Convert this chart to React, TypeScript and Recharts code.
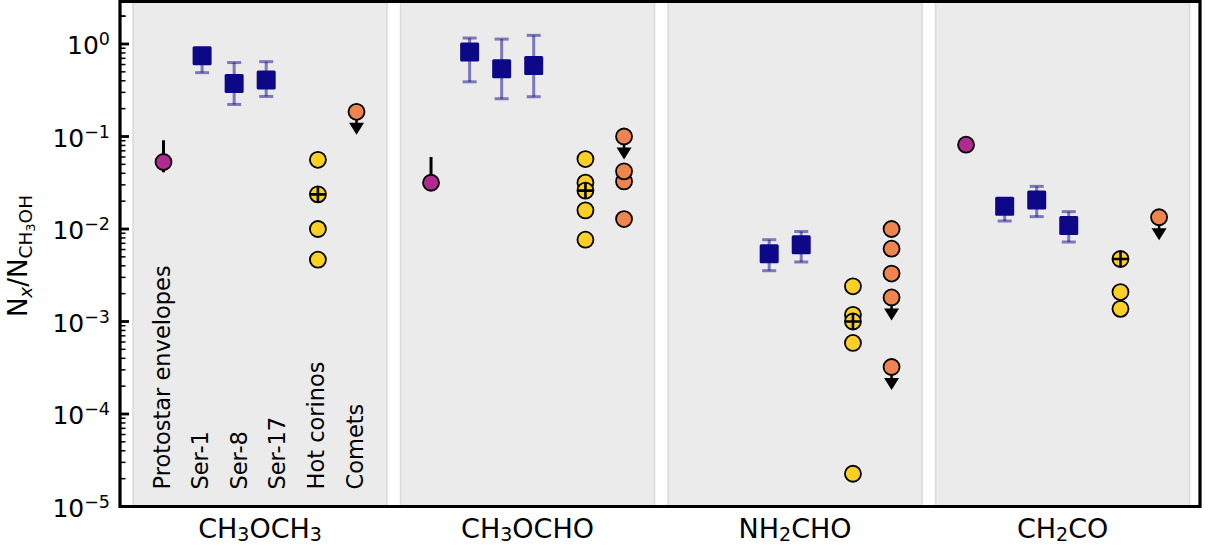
import React from 'react';
import { ScatterChart, Scatter, XAxis, YAxis, ReferenceArea, ErrorBar } from 'recharts';

const FONT = '"DejaVu Sans", sans-serif';

// molecule groups along the x axis
const GROUP_LABELS: [string, boolean][][] = [
  [['CH', false], ['3', true], ['OCH', false], ['3', true]],
  [['CH', false], ['3', true], ['OCHO', false]],
  [['NH', false], ['2', true], ['CHO', false]],
  [['CH', false], ['2', true], ['CO', false]],
];
const SOURCE_LABELS = ['Protostar envelopes', 'Ser-1', 'Ser-8', 'Ser-17', 'Hot corinos', 'Comets'];
const LABEL_SLOTS = [0, 1, 2, 3, 4, 5];
const SER_SLOTS = [1, 1.83, 2.66];
const PROTO_SLOT = 0;
const HC_SLOT = 4;
const COMET_SLOT = 5;
const GROUP_STEP = 6.93;
const GROUP_CENTER = 2.5;
const PANEL_HALF = 3.29;
const X_MIN = -1.127;
const X_MAX = 26.85;
const Y_MIN = 1e-5;
const Y_MAX = 2.88;

// protostar envelopes (group index, value, low, high)
const PROTO_GROUPS = [0, 1, 3];
const PROTO_VALUES = [0.053, 0.0316, 0.0815];
const PROTO_LOW = [0.041, 0.0316, 0.0815];
const PROTO_HIGH = [0.091, 0.06, 0.0815];

// Serpens sources Ser-1, Ser-8, Ser-17 per group
const SER_VALUES = [
  [0.748, 0.375, 0.408],
  [0.82, 0.54, 0.587],
  [null, 0.0054, 0.00677],
  [0.0176, 0.0206, 0.0109],
];
const SER_LOW = [
  [0.49, 0.222, 0.271],
  [0.39, 0.256, 0.269],
  [null, 0.00354, 0.0044],
  [0.0122, 0.0136, 0.00723],
];
const SER_HIGH = [
  [0.85, 0.63, 0.644],
  [1.16, 1.13, 1.24],
  [null, 0.00766, 0.0094],
  [0.02, 0.0289, 0.0154],
];

// hot corinos
const HOT_CORINOS = [
  [0.056, 0.01, 0.00466],
  [0.057, 0.0317, 0.0159, 0.00766],
  [0.0024, 0.00118, 0.000586, 2.26e-5],
  [0.00208, 0.00137],
];
const HOT_CORINOS_MARKED = [0.0237, 0.026, 0.001, 0.00474];

// comets
const COMETS = [
  [0.185],
  [0.1, 0.0327, 0.042, 0.0128],
  [0.01, 0.00612, 0.0033, 0.00182, 0.000322],
  [0.0134],
];
const COMET_UPPER_LIMIT = [
  [true],
  [true, false, false, false],
  [false, false, false, true, true],
  [true],
];

const Y_TICKS: number[] = [];
for (let e = -5; e <= 0; e++) {
  for (let m = 1; m <= 9; m++) Y_TICKS.push(m * Math.pow(10, e));
}
Y_TICKS.push(2);

const GROUP_CENTERS = GROUP_LABELS.map((_, g) => g * GROUP_STEP + GROUP_CENTER);
const X_TICKS = [...LABEL_SLOTS, ...GROUP_CENTERS];

const protoData = PROTO_VALUES.map((v, i) => ({
  x: PROTO_GROUPS[i] * GROUP_STEP + PROTO_SLOT,
  y: v,
  err: [v - PROTO_LOW[i], PROTO_HIGH[i] - v],
}));

const serData: any[] = [];
SER_VALUES.forEach((row, g) => {
  row.forEach((v, k) => {
    if (v == null) return;
    serData.push({
      x: g * GROUP_STEP + SER_SLOTS[k],
      y: v,
      err: [v - (SER_LOW[g][k] as number), (SER_HIGH[g][k] as number) - v],
    });
  });
});

const hcData: any[] = [];
HOT_CORINOS.forEach((row, g) => row.forEach((v) => hcData.push({ x: g * GROUP_STEP + HC_SLOT, y: v })));
HOT_CORINOS_MARKED.forEach((v, g) => hcData.push({ x: g * GROUP_STEP + HC_SLOT, y: v, plus: true }));

const cometData: any[] = [];
COMETS.forEach((row, g) =>
  row.forEach((v, k) => cometData.push({ x: g * GROUP_STEP + COMET_SLOT, y: v, upper: COMET_UPPER_LIMIT[g][k] }))
);

const R = 8;

const circleShape = (fill: string) => (props: any) => {
  const { cx, cy, payload } = props;
  if (cx == null || cy == null) return <g />;
  return (
    <g>
      {payload.upper && (
        <g>
          <line x1={cx} y1={cy} x2={cx} y2={cy + 13} stroke="#000" strokeWidth={2.5} />
          <polygon points={`${cx - 7.5},${cy + 11} ${cx + 7.5},${cy + 11} ${cx},${cy + 23}`} fill="#000" />
        </g>
      )}
      <circle cx={cx} cy={cy} r={R} fill={fill} stroke="#000" strokeWidth={1.8} />
      {payload.plus && (
        <g stroke="#000" strokeWidth={2.6}>
          <line x1={cx - 7.8} y1={cy} x2={cx + 7.8} y2={cy} />
          <line x1={cx} y1={cy - 7.8} x2={cx} y2={cy + 7.8} />
        </g>
      )}
    </g>
  );
};

const squareShape = (props: any) => {
  const { cx, cy } = props;
  if (cx == null || cy == null) return <g />;
  return <rect x={cx - 9.5} y={cy - 9.5} width={19} height={19} rx={1.5} fill="#0d0887" />;
};

const renderYTick = (props: any) => {
  const { x, y, payload } = props;
  const v = payload.value;
  const lg = Math.log10(v);
  const major = Math.abs(lg - Math.round(lg)) < 1e-6;
  if (!major) {
    return <line x1={x} y1={y} x2={x + 5.5} y2={y} stroke="#000" strokeWidth={1.5} />;
  }
  const exp = Math.round(lg);
  const expText = exp < 0 ? `\u2212${-exp}` : `${exp}`;
  return (
    <g>
      <line x1={x} y1={y} x2={x + 9} y2={y} stroke="#000" strokeWidth={2.8} />
      <text x={x - 10} y={y + 10.5} textAnchor="end" fontSize={25} fontFamily={FONT} fill="#000">
        10<tspan fontSize={17.5} dy={-9}>{expText}</tspan>
      </text>
    </g>
  );
};

const renderXTick = (props: any) => {
  const { x, y, payload } = props;
  const v = payload.value;
  const gi = GROUP_CENTERS.findIndex((c) => Math.abs(c - v) < 1e-6);
  if (gi >= 0) {
    const parts = GROUP_LABELS[gi];
    let prevSub = false;
    return (
      <text x={x} y={y + 31} textAnchor="middle" fontSize={27} fontFamily={FONT} fill="#000">
        {parts.map(([t, sub], i) => {
          const dy = sub && !prevSub ? 3 : !sub && prevSub ? -3 : 0;
          prevSub = sub;
          return (
            <tspan key={i} fontSize={sub ? 19 : 27} dy={dy}>
              {t}
            </tspan>
          );
        })}
      </text>
    );
  }
  const li = LABEL_SLOTS.findIndex((s) => Math.abs(s - v) < 1e-6);
  if (li < 0) return <g />;
  return (
    <text transform={`translate(${x + 6}, ${y - 17}) rotate(-90)`} fontSize={22.5} fontFamily={FONT} fill="#000">
      {SOURCE_LABELS[li]}
    </text>
  );
};

export default function App() {
  return (
    <div style={{ position: 'fixed', left: 0, top: 0, width: 1208, height: 546, background: '#fff' }}>
      <ScatterChart width={1208} height={546} margin={{ top: 1.5, right: 8, bottom: 0, left: 0 }}>
        <XAxis
          type="number"
          dataKey="x"
          domain={[X_MIN, X_MAX]}
          allowDataOverflow
          ticks={X_TICKS}
          interval={0}
          tick={renderXTick}
          tickLine={false}
          axisLine={false}
          tickSize={0}
          tickMargin={0}
          height={39.5}
        />
        <YAxis
          type="number"
          dataKey="y"
          scale="log"
          domain={[Y_MIN, Y_MAX]}
          allowDataOverflow
          ticks={Y_TICKS}
          interval={0}
          tick={renderYTick}
          tickLine={false}
          axisLine={false}
          tickSize={0}
          tickMargin={0}
          width={120}
        />
        {GROUP_CENTERS.map((c, g) => (
          <ReferenceArea
            key={g}
            x1={c - PANEL_HALF}
            x2={c + PANEL_HALF}
            y1={Y_MIN}
            y2={Y_MAX}
            fill="#ebebeb"
            fillOpacity={1}
            stroke="#dadada"
            strokeWidth={1.5}
            ifOverflow="visible"
          />
        ))}
        <Scatter data={protoData} shape={circleShape('#b12a90')} isAnimationActive={false}>
          <ErrorBar dataKey="err" direction="y" width={0} stroke="#000" strokeWidth={3} isAnimationActive={false} />
        </Scatter>
        <Scatter data={serData} shape={squareShape} isAnimationActive={false}>
          <ErrorBar
            dataKey="err"
            direction="y"
            width={7}
            stroke="rgba(13,8,135,0.5)"
            strokeWidth={3}
            isAnimationActive={false}
          />
        </Scatter>
        <Scatter data={hcData} shape={circleShape('#fccf25')} isAnimationActive={false} />
        <Scatter data={cometData} shape={circleShape('#f0844e')} isAnimationActive={false} />
        <ReferenceArea
          x1={X_MIN}
          x2={X_MAX}
          y1={Y_MIN}
          y2={Y_MAX}
          fill="none"
          stroke="#000"
          strokeWidth={3.2}
          ifOverflow="visible"
        />
      </ScatterChart>
      <svg width={1208} height={546} style={{ position: 'absolute', left: 0, top: 0, pointerEvents: 'none' }}>
        <text transform="translate(27,256) rotate(-90)" textAnchor="middle" fontSize={26} fontFamily={FONT} fill="#000">
          N
          <tspan fontSize={18.5} fontStyle="italic" dy={5}>
            x
          </tspan>
          <tspan dy={-5}>/N</tspan>
          <tspan fontSize={18.5} dy={5}>
            CH
          </tspan>
          <tspan fontSize={13} dy={3}>
            3
          </tspan>
          <tspan fontSize={18.5} dy={-3}>
            OH
          </tspan>
        </text>
      </svg>
    </div>
  );
}
